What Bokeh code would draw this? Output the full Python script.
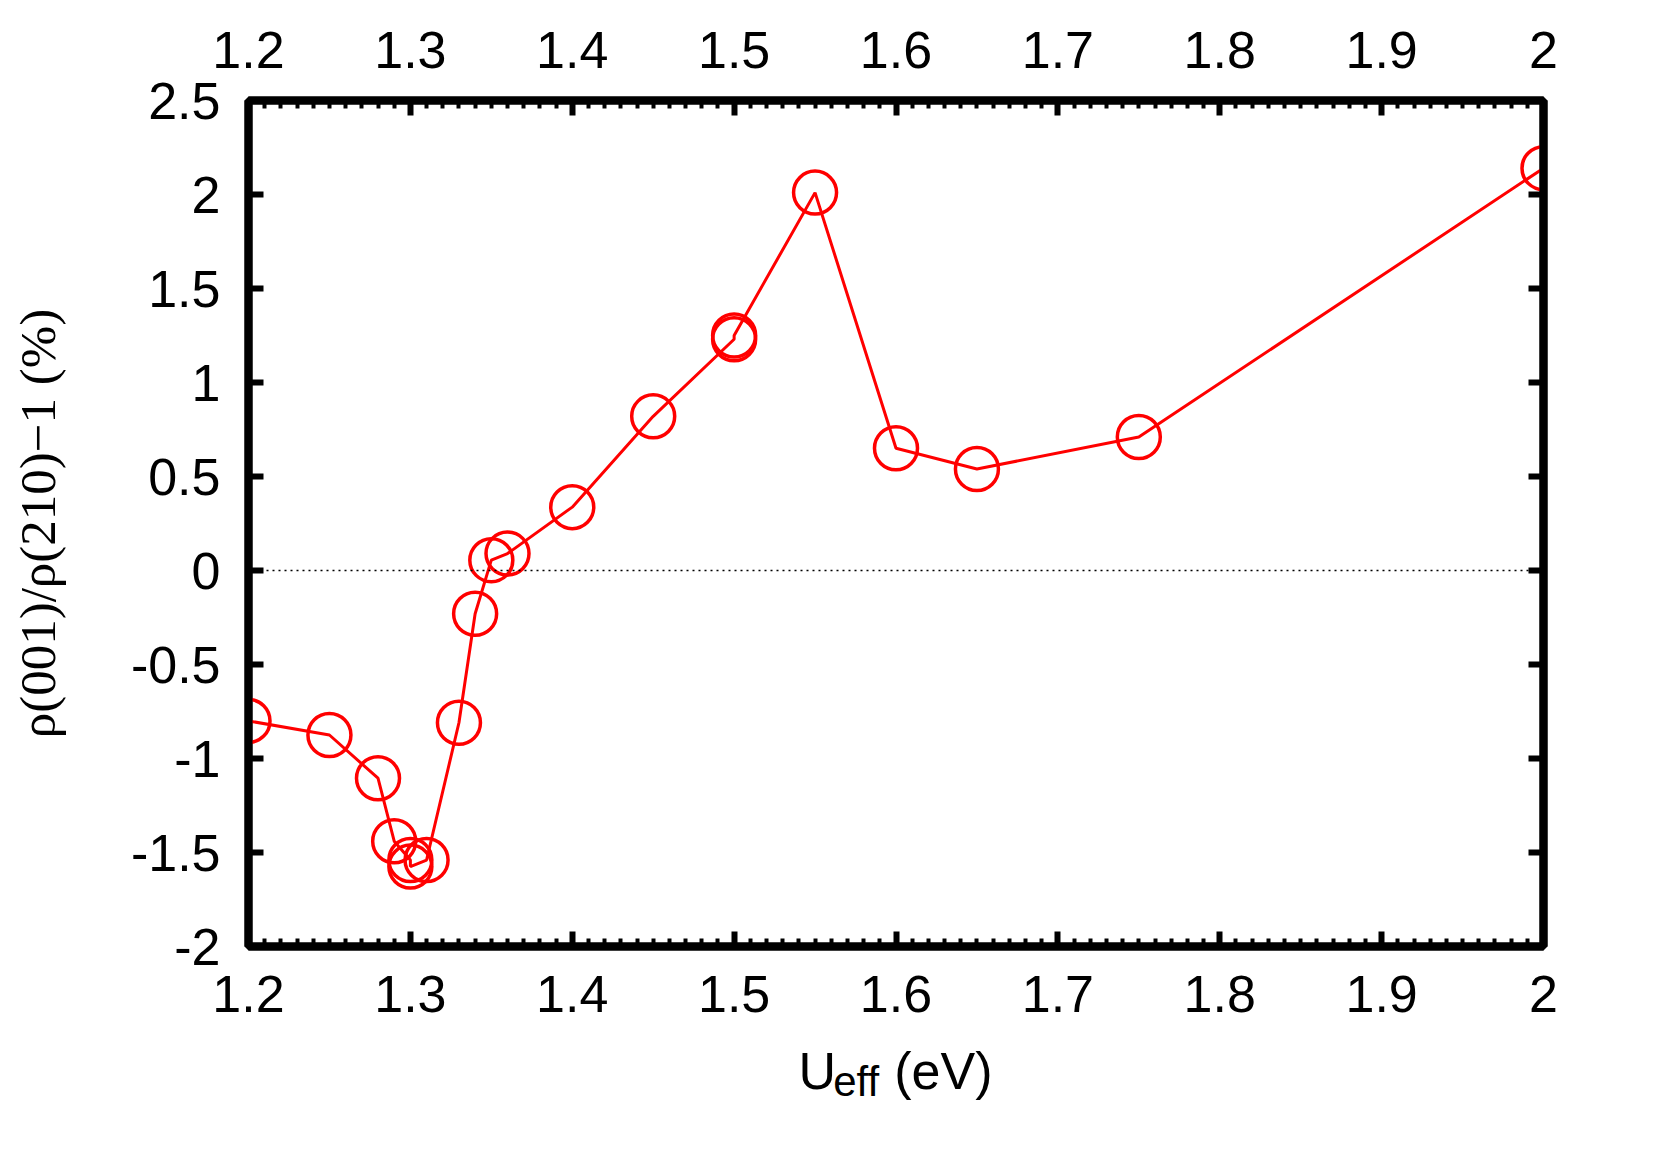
from bokeh.plotting import figure
from bokeh.layouts import column
from bokeh.models import LinearAxis, FixedTicker, Range1d, Span
from bokeh.core.properties import value
from bokeh.embed import file_html
from bokeh.resources import INLINE

# ---- data ----
u_eff = [1.2, 1.25, 1.28, 1.29, 1.3, 1.3, 1.31, 1.33, 1.34, 1.35, 1.36,
         1.4, 1.45, 1.5, 1.5, 1.55, 1.6, 1.65, 1.75, 2.0]
ratio = [-0.80, -0.875, -1.105, -1.44, -1.54, -1.575, -1.54, -0.81, -0.23,
         0.055, 0.09, 0.337, 0.82, 1.23, 1.25, 2.01, 0.65, 0.54, 0.71, 2.14]

x_ticks = [1.2, 1.3, 1.4, 1.5, 1.6, 1.7, 1.8, 1.9, 2.0]
x_tick_labels = ["1.2", "1.3", "1.4", "1.5", "1.6", "1.7", "1.8", "1.9", "2"]
x_minor_ticks = [round(1.2 + 0.01 * i, 2) for i in range(81)]
y_ticks = [-2.0, -1.5, -1.0, -0.5, 0.0, 0.5, 1.0, 1.5, 2.0, 2.5]
y_tick_labels = ["-2", "-1.5", "-1", "-0.5", "0", "0.5", "1", "1.5", "2", "2.5"]

y_label = "ρ(001)/ρ(210)−1 (%)"
x_label_main = "U"
x_label_sub = "eff"
x_label_unit = "(eV)"

RED = "#ff0000"
TICK_FONT = "Liberation Sans"
TICK_SIZE = "52px"
FRAME_W = 8
LEFT_B, RIGHT_B = 248, 100

x_range = Range1d(1.2, 2.0)

p = figure(frame_width=1295, frame_height=846,
           x_range=x_range, y_range=Range1d(-2.0, 2.5),
           output_backend="svg", toolbar_location=None,
           x_axis_location=None, y_axis_location=None,
           min_border_left=LEFT_B, min_border_top=100,
           min_border_right=RIGHT_B, min_border_bottom=110)
p.grid.visible = False
p.background_fill_color = "white"
p.border_fill_color = "white"
p.outline_line_color = "black"
p.outline_line_width = FRAME_W

x_over = dict(zip(x_ticks, x_tick_labels))
y_over = dict(zip(y_ticks, y_tick_labels))


def style_axis(ax, show_labels=True, minor=False, standoff=30):
    ax.axis_line_color = "black"
    ax.axis_line_width = FRAME_W
    ax.major_tick_line_color = "black"
    ax.major_tick_line_width = 6
    ax.major_tick_in = 15
    ax.major_tick_out = 0
    if minor:
        ax.minor_tick_line_color = "black"
        ax.minor_tick_line_width = 4
        ax.minor_tick_in = 8
        ax.minor_tick_out = 0
    else:
        ax.minor_tick_line_color = None
    ax.major_label_text_font = TICK_FONT
    ax.major_label_text_font_size = TICK_SIZE
    ax.major_label_text_color = "black" if show_labels else None
    ax.major_label_standoff = standoff


bottom = LinearAxis(ticker=FixedTicker(ticks=x_ticks, minor_ticks=x_minor_ticks),
                    major_label_overrides=x_over)
style_axis(bottom, True, True, standoff=29)
p.add_layout(bottom, "below")

top = LinearAxis(ticker=FixedTicker(ticks=x_ticks, minor_ticks=x_minor_ticks),
                 major_label_overrides=x_over)
style_axis(top, True, True, standoff=33)
p.add_layout(top, "above")

left = LinearAxis(ticker=FixedTicker(ticks=y_ticks),
                  major_label_overrides=y_over,
                  axis_label=y_label)
style_axis(left, True, False, standoff=28)
left.axis_label_text_font = "Liberation Serif"
left.axis_label_text_font_size = "51px"
left.axis_label_text_font_style = "normal"
left.axis_label_text_color = "black"
left.axis_label_standoff = 62
p.add_layout(left, "left")

right = LinearAxis(ticker=FixedTicker(ticks=y_ticks),
                   major_label_overrides={t: "" for t in y_ticks})
style_axis(right, False, False, standoff=5)
p.add_layout(right, "right")

# zero line
p.add_layout(Span(location=0, dimension="width", line_color="black",
                  line_width=1.5, line_dash="2 4"))

# data
p.line(u_eff, ratio, line_color=RED, line_width=3)
p.scatter(u_eff, ratio, marker="circle", size=43, fill_color=None,
          line_color=RED, line_width=3.5)

# ---- x-axis title (with subscript) in a strip below the main plot ----
lab = figure(frame_width=1295, frame_height=110,
             x_range=x_range, y_range=Range1d(110, 0),
             output_backend="svg", toolbar_location=None,
             x_axis_location=None, y_axis_location=None,
             min_border_left=LEFT_B, min_border_right=RIGHT_B,
             min_border_top=0, min_border_bottom=0,
             margin=(-62, 0, 0, 0))
lab.grid.visible = False
lab.outline_line_color = None
lab.background_fill_color = None
lab.border_fill_color = None

lab_font = value("Liberation Sans")
lab.text(x=[1.5398], y=[76], text=[x_label_main], text_font=lab_font,
         text_font_size="52px", text_color="black",
         text_align="left", text_baseline="alphabetic")
lab.text(x=[1.5612], y=[86.7], text=[x_label_sub], text_font=lab_font,
         text_font_size="42px", text_color="black",
         text_align="left", text_baseline="alphabetic")
lab.text(x=[1.5989], y=[76.5], text=[x_label_unit], text_font=lab_font,
         text_font_size="52px", text_color="black",
         text_align="left", text_baseline="alphabetic")

layout = column(p, lab, spacing=0)
open("out.html", "w").write(file_html(layout, INLINE))
